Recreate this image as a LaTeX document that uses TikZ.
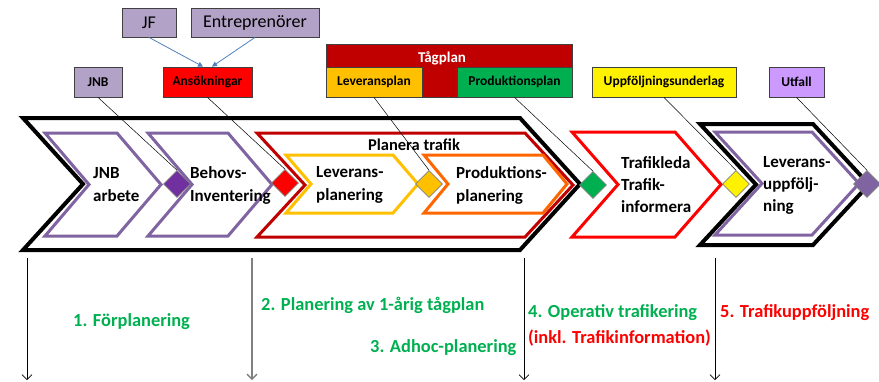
\documentclass[tikz,border=0pt]{standalone}
\usepackage{fontspec}
\setmainfont{Carlito}
\usetikzlibrary{arrows.meta,shapes.geometric}
\definecolor{lav}{HTML}{B3A2C7}
\definecolor{purp}{HTML}{8064A2}
\definecolor{dpurp}{HTML}{7030A0}
\definecolor{dred}{HTML}{C00000}
\definecolor{gold}{HTML}{FFC000}
\definecolor{orng}{HTML}{FF6600}
\definecolor{grn}{HTML}{00B050}
\definecolor{ltpurp}{HTML}{CC99FF}
\definecolor{blu}{HTML}{4F81BD}
\newcommand\mychev[6]{\draw[#1] (#2,#4) -- (#3,#4) -- ({#3+#6},{(#4+#5)/2}) -- (#3,#5) -- (#2,#5) -- ({#2+#6},{(#4+#5)/2}) -- cycle;}
\begin{document}
\begin{tikzpicture}[x=1pt,y=-1pt,
  blk/.style={draw=black,line width=4pt},
  pur/.style={draw=purp,line width=3pt},
  thin3/.style={line width=3pt},
  lab/.style={draw=black!75,line width=0.8pt,minimum height=30,inner sep=0pt,font=\fontsize{13.5}{16}\selectfont\bfseries},
  toplab/.style={draw=black!75,line width=0.8pt,fill=lav,minimum height=29,inner sep=0pt,font=\fontsize{18}{20}\selectfont},
  dia/.style={diamond,draw=gray,line width=0.6pt,minimum width=27,minimum height=27,inner sep=0pt},
  ctext/.style={anchor=west,align=left,inner sep=0pt,font=\fontsize{17}{23}\selectfont\bfseries},
  btext/.style={anchor=west,inner sep=0pt,font=\fontsize{18.4}{21}\selectfont\bfseries},
  leader/.style={draw=black,line width=0.5pt},
  bluearrow/.style={draw=blu,line width=0.8pt,-{Triangle[length=5pt,width=5pt]}},
  varrow/.style={draw=black,line width=0.7pt,-{Straight Barb[length=5pt,width=10pt]}}
]
\useasboundingbox (0,0) rectangle (879,381);

% chevrons
\mychev{blk}{23}{520}{118}{250}{60}
\mychev{pur}{45}{117}{133}{236}{44}
\mychev{pur}{148}{228}{133}{236}{44}
\mychev{draw=dred,thin3}{257}{525}{133}{237}{48}
\mychev{draw=gold,thin3}{286}{393}{155}{213}{25}
\mychev{draw=orng,thin3}{424}{543}{155}{213}{24}
\mychev{draw=red,thin3}{572}{675}{132}{237}{46}
\mychev{blk}{700}{813}{124}{245}{56}
\mychev{pur}{715}{812}{132}{235}{47}

% chevron texts
\node[ctext] (t1) at (93,185) {JNB\\arbete};
\node[ctext] (t2) at (190,185) {Behovs-\\Inventering};
\node[font=\fontsize{16.5}{19}\selectfont\bfseries,inner sep=0pt] (tpl) at (414,145) {Planera trafik};
\node[ctext] (t3) at (316,185) {Leverans-\\planering};
\node[ctext] (t4) at (456,185) {Produktions-\\planering};
\node[ctext,font=\fontsize{17}{22}\selectfont\bfseries] (t5) at (621,185) {Trafikleda\\Trafik-\\informera};
\node[ctext,font=\fontsize{17}{22}\selectfont\bfseries] (t6) at (763,185) {Leverans-\\uppfölj-\\ning};

% top boxes
\node[toplab,minimum width=54] (jf) at (149,22.5) {JF};
\node[toplab,minimum width=128] (ent) at (255,22.5) {Entreprenörer};
\node[lab,fill=lav,minimum width=48] (jnb) at (98,82) {JNB};
\node[lab,fill=red,minimum width=89] (ans) at (207.5,82) {Ansökningar};
\node[draw=black!75,line width=0.8pt,fill=dred,minimum width=246,minimum height=53,inner sep=0pt] (tag) at (449,70.5) {};
\node[font=\fontsize{15}{17}\selectfont\bfseries,text=white,inner sep=0pt] (tagt) at (442,58) {Tågplan};
\node[lab,fill=gold,minimum width=96] (lev) at (374,82) {Leveransplan};
\node[lab,fill=grn,minimum width=115] (prod) at (514.5,82) {Produktionsplan};
\node[lab,fill=yellow,minimum width=144] (upp) at (664,82) {Uppföljningsunderlag};
\node[lab,fill=ltpurp,minimum width=55] (utf) at (796.5,82) {Utfall};

% blue arrows
\draw[bluearrow] (jf.south) -- ([xshift=-4.5pt]ans.north);
\draw[bluearrow] (ent.south) -- ([xshift=4.5pt]ans.north);

% diamonds
\node[dia,fill=dpurp] (d1) at (177,184) {};
\node[dia,fill=red] (d2) at (285,183) {};
\node[dia,fill=gold] (d3) at (429,184) {};
\node[dia,fill=grn] (d4) at (593,185) {};
\node[dia,fill=yellow] (d5) at (736,184) {};
\node[dia,fill=purp] (d6) at (867,184) {};

% leader lines
\draw[leader] (jnb.south) -- (d1.north);
\draw[leader] (ans.south) -- (d2.north);
\draw[leader] (lev.south) -- (d3.north);
\draw[leader] (prod.south) -- (d4.north);
\draw[leader] (upp.south) -- (d5.north);
\draw[leader] (utf.south) -- (d6.north);

% vertical arrows
\coordinate (a1s) at (27,258); \coordinate (a1e) at (27,380);
\coordinate (a2s) at (252,258); \coordinate (a2e) at (252,380);
\coordinate (a3s) at (524,258); \coordinate (a3e) at (524,380);
\coordinate (a4s) at (715,258); \coordinate (a4e) at (715,380);
\draw[varrow] (a1s) -- (a1e);
\draw[varrow,draw=gray,line width=1.4pt] (a2s) -- (a2e);
\draw[varrow] (a3s) -- (a3e);
\draw[varrow] (a4s) -- (a4e);

% bottom texts
\node[btext,text=grn] (b1) at (73,322) {1. Förplanering};
\node[btext,text=grn] (b2) at (261,305) {2. Planering av 1-årig tågplan};
\node[btext,text=grn] (b3) at (370,348) {3. Adhoc-planering};
\node[btext,text=grn] (b4) at (528,313) {4. Operativ trafikering};
\node[btext,text=red] (b5) at (528,338) {(inkl. Trafikinformation)};
\node[btext,text=red] (b6) at (720,313) {5. Trafikuppföljning};
\end{tikzpicture}
\end{document}
